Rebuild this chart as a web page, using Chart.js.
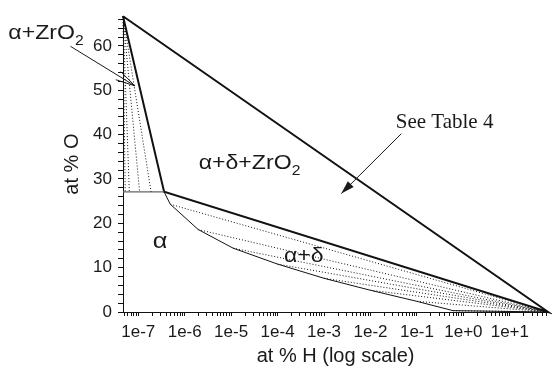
<!DOCTYPE html>
<html>
<head>
<meta charset="utf-8">
<script src="https://cdn.jsdelivr.net/npm/chart.js@4/dist/chart.umd.min.js"></script>
<style>
  html, body { margin: 0; padding: 0; background: #fff; }
  #wrap { width: 552px; height: 368px; }
</style>
</head>
<body>
<div id="wrap"><canvas id="phaseChart"></canvas></div>
<script>
// Zr-O-H section: at % O against at % H (log scale)

const xMin = 4.7e-8;
const xMax = 66.7;
const yMax = 66.7;

const xTickLabels = ['1e-7', '1e-6', '1e-5', '1e-4', '1e-3', '1e-2', '1e-1', '1e+0', '1e+1'];
const yTickLabels = [0, 10, 20, 30, 40, 50, 60];

// corners of the alpha+delta+ZrO2 triangle
const triangleH = [4.7e-8, 3.6e-7, 66.7];
const triangleO = [66.7, 27.1, 0];

// alpha phase boundary (thin lower curve)
const alphaH = [3.6e-7, 4.9e-7, 1.95e-6, 1.1e-5, 1e-4, 1e-3, 1e-2, 1e-1, 0.6, 66.7];
const alphaO = [27.1, 24.3, 18.6, 14.4, 10.8, 7.6, 4.9, 2.4, 0.3, 0];

// tie lines in alpha+ZrO2, ending on the 27 at% O line
const zrTieH = [5.24e-8, 6.43e-8, 1.07e-7, 1.89e-7];

// tie lines in alpha+delta, starting on the alpha boundary
const deltaTieH = [4.9e-7, 1.95e-6, 1.1e-5, 1e-4, 1e-3, 1e-2, 1e-1, 0.6];
const deltaTieO = [24.3, 18.6, 14.4, 10.8, 7.6, 4.9, 2.4, 0.3];

const FONT = '"Liberation Sans", Arial, Helvetica, sans-serif';
Chart.defaults.font.family = FONT;
Chart.defaults.color = '#1a1a1a';

function seg(hs, os) {
    return hs.map((h, i) => ({ x: h, y: os[i] }));
}

function lineSet(points, width, dash, color) {
    return {
        data: points,
        showLine: true,
        borderColor: color || '#111',
        borderWidth: width,
        borderDash: dash || [],
        pointRadius: 0,
        pointHoverRadius: 0,
        tension: 0,
        fill: false,
        clip: false
    };
}

const datasets = [];

// dotted tie lines first so the solid lines sit on top
zrTieH.forEach(h => {
    datasets.push(lineSet(seg([triangleH[0], h], [triangleO[0], triangleO[1]]), 1, [1, 2]));
});
deltaTieH.forEach((h, i) => {
    datasets.push(lineSet(seg([h, triangleH[2]], [deltaTieO[i], triangleO[2]]), 1, [1, 2]));
});

// 27 at% O line under the alpha+ZrO2 region
datasets.push(lineSet(seg([xMin, triangleH[1]], [triangleO[1], triangleO[1]]), 1.2, [], '#666'));

// alpha boundary
datasets.push(lineSet(seg(alphaH, alphaO), 1, []));

// triangle (closed)
datasets.push(lineSet(seg(
    [triangleH[0], triangleH[1], triangleH[2], triangleH[0]],
    [triangleO[0], triangleO[1], triangleO[2], triangleO[0]]), 2, []));

// tick values: majors from the labels, minors 2..9 in each decade
const xDecades = ['1e-8'].concat(xTickLabels);
const xTickValues = [];
const xLabelMap = new Map();
xDecades.forEach(lbl => {
    const base = parseFloat(lbl);
    for (let m = 1; m <= 9; m++) {
        const v = m === 1 ? base : m * base;
        if (v >= xMin && v <= xMax) xTickValues.push(v);
    }
    if (xTickLabels.includes(lbl)) xLabelMap.set(base, lbl);
});

const yTickValues = [];
for (let v = 0; v <= yMax; v += 2) yTickValues.push(v);

// text with optional subscripts, slightly widened like the original figure
function drawRich(ctx, x, y, parts, size, family, stretch) {
    const k = stretch || 1;
    ctx.save();
    ctx.translate(x, y);
    ctx.scale(k, 1);
    let cx = 0;
    parts.forEach(p => {
        const s = p.sub ? size * 0.68 : size;
        ctx.font = s + 'px ' + (family || FONT);
        ctx.fillText(p.t, cx, p.sub ? size * 0.28 : 0);
        cx += ctx.measureText(p.t).width;
    });
    ctx.restore();
}

function drawArrow(ctx, x0, y0, x1, y1, headLen, spread, filled) {
    const ang = Math.atan2(y1 - y0, x1 - x0);
    ctx.beginPath();
    ctx.moveTo(x0, y0);
    ctx.lineTo(x1, y1);
    ctx.stroke();
    const ax = x1 - headLen * Math.cos(ang - spread);
    const ay = y1 - headLen * Math.sin(ang - spread);
    const bx = x1 - headLen * Math.cos(ang + spread);
    const by = y1 - headLen * Math.sin(ang + spread);
    ctx.beginPath();
    if (filled) {
        ctx.moveTo(x1, y1);
        ctx.lineTo(ax, ay);
        ctx.lineTo(bx, by);
        ctx.closePath();
        ctx.fill();
    } else {
        ctx.moveTo(ax, ay);
        ctx.lineTo(x1, y1);
        ctx.lineTo(bx, by);
        ctx.stroke();
    }
}

const phaseLabels = {
    id: 'phaseLabels',
    afterDatasetsDraw(chart) {
        const { ctx } = chart;
        const sx = chart.scales.x;
        const sy = chart.scales.y;
        const px = (h, o) => [sx.getPixelForValue(h), sy.getPixelForValue(o)];

        ctx.save();
        ctx.fillStyle = '#1a1a1a';
        ctx.strokeStyle = '#1a1a1a';
        ctx.textAlign = 'left';
        ctx.textBaseline = 'alphabetic';

        let p = px(1.6e-10, 61.6);
        drawRich(ctx, p[0], p[1], [{ t: 'α+ZrO' }, { t: '2', sub: true }], 21, null, 1.1);

        p = px(2.0e-6, 32.3);
        drawRich(ctx, p[0], p[1], [{ t: 'α+δ+ZrO' }, { t: '2', sub: true }], 21, null, 1.1);

        p = px(2.05e-7, 14.45);
        drawRich(ctx, p[0], p[1], [{ t: 'α' }], 22, null, 1.15);

        p = px(1.37e-4, 11.3);
        drawRich(ctx, p[0], p[1], [{ t: 'α+δ' }], 21, null, 1.1);

        p = px(0.035, 41.4);
        drawRich(ctx, p[0], p[1], [{ t: 'See Table 4' }], 21, '"Liberation Serif", "Times New Roman", serif');

        ctx.lineWidth = 1;
        let a = px(3.48e-9, 59.9);
        let b = px(8.46e-8, 51.0);
        drawArrow(ctx, a[0], a[1], b[0], b[1], 20, 0.24, false);

        a = px(0.046, 40.2);
        b = px(2.35e-3, 26.7);
        drawArrow(ctx, a[0], a[1], b[0], b[1], 14, 0.3, true);

        ctx.restore();
    }
};

new Chart(document.getElementById('phaseChart'), {
    type: 'scatter',
    data: { datasets: datasets },
    options: {
        responsive: true,
        maintainAspectRatio: false,
        animation: false,
        layout: { padding: { top: 12, right: 0, bottom: 0, left: 0 } },
        plugins: {
            legend: { display: false },
            tooltip: { enabled: false }
        },
        scales: {
            x: {
                type: 'logarithmic',
                min: xMin,
                max: xMax,
                afterBuildTicks: scale => {
                    scale.ticks = xTickValues.map(v => ({ value: v }));
                },
                afterFit: scale => { scale.height = 56; },
                grid: { drawOnChartArea: false, drawTicks: true, tickLength: 4, color: '#111' },
                border: { display: true, color: '#111', width: 1 },
                ticks: {
                    autoSkip: false,
                    maxRotation: 0,
                    minRotation: 0,
                    padding: 6,
                    font: { size: 17 },
                    callback: value => xLabelMap.get(value) || ''
                },
                title: {
                    display: true,
                    text: 'at % H (log scale)',
                    font: { size: 20 },
                    padding: { top: 0, bottom: 0 }
                }
            },
            y: {
                type: 'linear',
                min: 0,
                max: yMax,
                afterBuildTicks: scale => {
                    scale.ticks = yTickValues.map(v => ({ value: v }));
                },
                afterFit: scale => { scale.width = 123; },
                grid: { drawOnChartArea: false, drawTicks: true, tickLength: 5, color: '#111' },
                border: { display: true, color: '#111', width: 1 },
                ticks: {
                    autoSkip: false,
                    padding: 6,
                    font: { size: 17 },
                    callback: value => (yTickLabels.includes(value) ? String(value) : '')
                },
                title: {
                    display: true,
                    text: 'at % O',
                    font: { size: 20 },
                    padding: { top: 60, bottom: 0 }
                }
            }
        }
    },
    plugins: [phaseLabels]
});
</script>
</body>
</html>
